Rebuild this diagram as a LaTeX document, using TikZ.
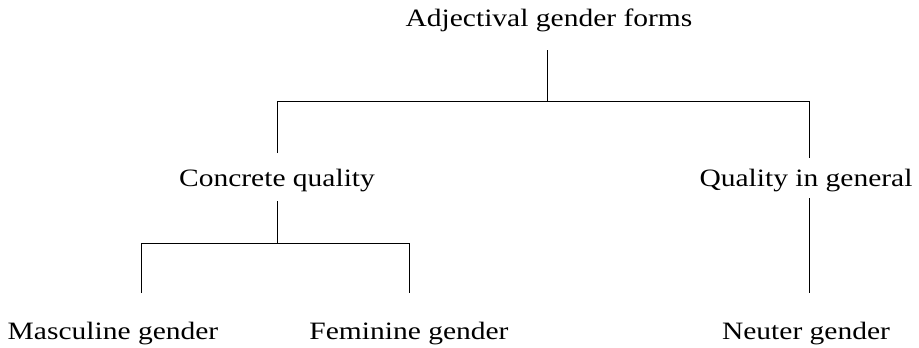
\documentclass[tikz,border=0pt]{standalone}
\usepackage{fontspec}
\setmainfont{Liberation Serif}[FakeStretch=1.18]
\usetikzlibrary{calc}
\tikzset{
  label/.style={anchor=base, inner sep=0pt, font=\fontsize{25}{30}\selectfont},
  branch/.style={line width=0.9pt, black}
}
\begin{document}
\begin{tikzpicture}[x=1pt, y=-1pt]
  \useasboundingbox (0,0) rectangle (919,348);

  % labels
  \node[label] (top)      at (549,27)  {Adjectival gender forms};
  \node[label] (concrete) at (277,186) {Concrete quality};
  \node[label] (general)  at (806,186) {Quality in general};
  \node[label] (masc)     at (113,339) {Masculine gender};
  \node[label] (fem)      at (409,339) {Feminine gender};
  \node[label] (neuter)   at (806,339) {Neuter gender};

  % junction points
  \coordinate (hub)   at (547,101);
  \coordinate (cqUp)  at (277,101);
  \coordinate (qgUp)  at (809,101);
  \coordinate (cqHub) at (277,243);
  \coordinate (mUp)   at (141,243);
  \coordinate (fUp)   at (409,243);

  % first level
  \draw[branch] ($(top.base)+(-2,23)$) -- (hub);
  \draw[branch] ($(concrete.base)+(0,-33)$) -- (cqUp) -- (qgUp) -- ($(qgUp)+(0,57)$);

  % second level
  \draw[branch] ($(concrete.base)+(0,15)$) -- (cqHub);
  \draw[branch] ($(mUp)+(0,50)$) -- (mUp) -- (fUp) -- ($(fem.base)+(0,-46)$);
  \draw[branch] ($(general.base)+(3,12)$) -- ($(neuter.base)+(3,-46)$);
\end{tikzpicture}
\end{document}
